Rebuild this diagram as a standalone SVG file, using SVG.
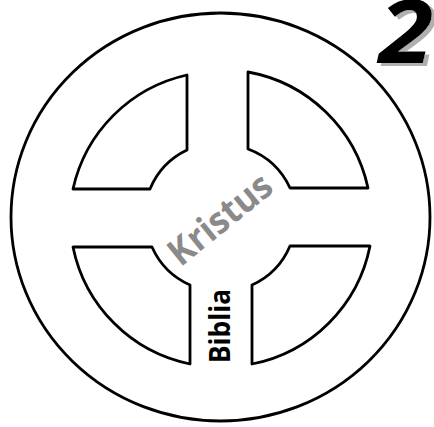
<svg xmlns="http://www.w3.org/2000/svg" width="434" height="427" viewBox="0 0 434 427">
<style>
.ln{fill:none;stroke:#000;stroke-width:2.8;stroke-linejoin:round}
.lbl{font-family:"Open Sans","Liberation Sans",sans-serif;font-weight:bold}
</style>
<defs>
<filter id="shadow" x="-20%" y="-20%" width="150%" height="150%">
<feOffset in="SourceAlpha" dx="4" dy="3" result="off"/>
<feFlood flood-color="#b0b0b0"/>
<feComposite in2="off" operator="in" result="sh"/>
<feMerge><feMergeNode in="sh"/><feMergeNode in="SourceGraphic"/></feMerge>
</filter>
</defs>
<rect width="434" height="427" fill="#fff"/>
<g id="wheel">
<ellipse class="ln" cx="220.5" cy="217" rx="209.5" ry="204"/>
</g>
<g id="quadrant-tl">
<path class="ln" d="M187,75 L187,150 A75,75 0 0 0 150,189 L73,189 A150,150 0 0 1 187,75 Z"/>
</g>
<g id="quadrant-tr">
<path class="ln" d="M248,72 L248,149 A75,75 0 0 1 290,188 L368,188 A150,150 0 0 0 248,72 Z"/>
</g>
<g id="quadrant-bl">
<path class="ln" d="M73,247 L152,247 A75,75 0 0 0 190,285 L190,364 A150,150 0 0 1 73,247 Z"/>
</g>
<g id="quadrant-br">
<path class="ln" d="M370,246 L290,246 A75,75 0 0 1 252,285 L252,364 A150,150 0 0 0 370,246 Z"/>
</g>
<g id="connectors"/>
<g id="kristus">
<text class="lbl" transform="translate(228,229) rotate(-39)" text-anchor="middle" font-size="37" fill="#8a8a8a" textLength="122" lengthAdjust="spacingAndGlyphs">Kristus</text>
</g>
<g id="biblia">
<text class="lbl" transform="translate(230,363) rotate(-90)" font-size="28" fill="#000" textLength="74" lengthAdjust="spacingAndGlyphs">Biblia</text>
</g>
<g id="number">
<text class="lbl" transform="translate(379,63) scale(1.12,1)" font-size="88" font-style="italic" fill="#000" filter="url(#shadow)">2</text>
</g>
</svg>
